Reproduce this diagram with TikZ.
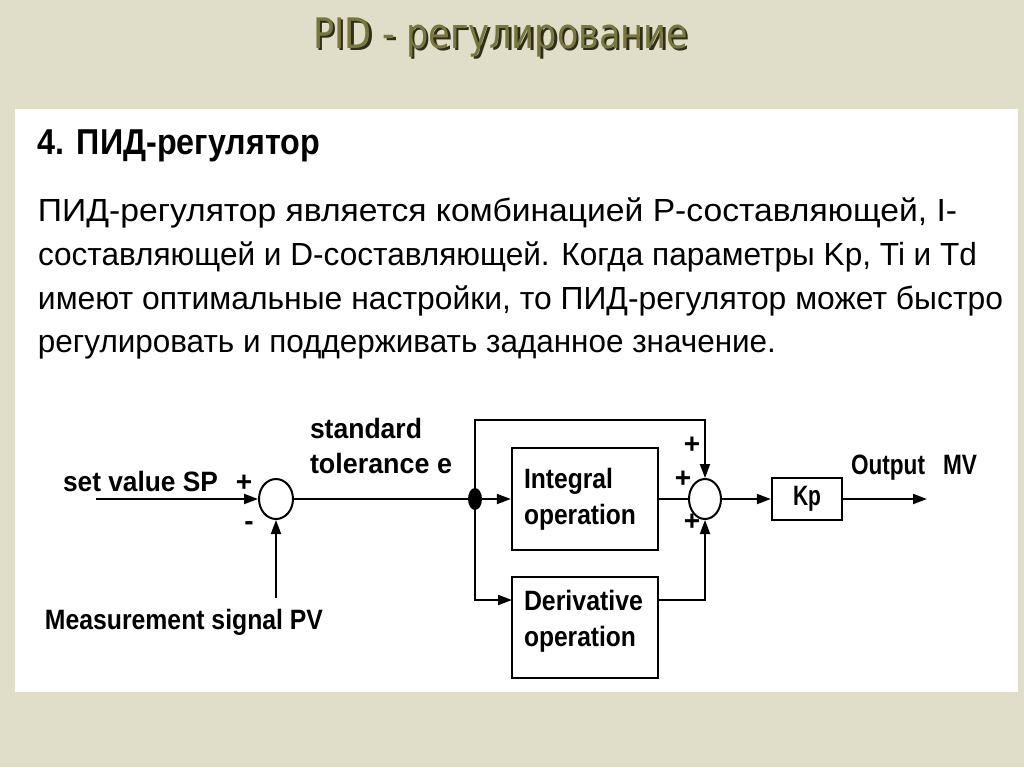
\documentclass[tikz,border=0pt]{standalone}
\usepackage{fontspec}
\setmainfont{Liberation Sans}
\newfontfamily\titlefont{DejaVu Sans}
\usetikzlibrary{arrows.meta,shapes.geometric}
\newlength\pxu \setlength\pxu{0.5pt}
\newcommand\fitw[2]{\resizebox{#1\pxu}{\height}{#2}}
\definecolor{bgc}{HTML}{E0DEC8}
\definecolor{titlecol}{HTML}{77773F}
\definecolor{titleshadow}{HTML}{2E2E18}
\begin{document}
\begin{tikzpicture}[x=0.5pt,y=-0.5pt,
  txt/.style={anchor=base west, inner sep=0, outer sep=0},
  bodyfont/.style={font=\fontsize{16}{18}\selectfont},
  lbl/.style={txt, font=\fontsize{14}{16}\selectfont\bfseries},
  sign/.style={inner sep=0, font=\fontsize{14}{14}\selectfont\bfseries},
  wire/.style={line width=1pt},
  arr/.style={wire, -{Triangle[length=7pt,width=5pt]}},
  blk/.style={draw, line width=1.2pt, inner sep=0},
  sumc/.style={ellipse, draw, line width=1pt, minimum width=17pt, minimum height=20pt, inner sep=0}]
\useasboundingbox (0,0) rectangle (1024,767);
\fill[bgc] (0,0) rectangle (1024,767);
\fill[white] (15,109) rectangle (1018,692);
% title
\node[txt, text=titleshadow, font=\fontsize{21}{24}\selectfont\titlefont] (titleshadow) at (315.5,50.5) {\fitw{375}{PID - регулирование}};
\node[txt, text=titlecol, font=\fontsize{21}{24}\selectfont\titlefont] (title) at (313,48.5) {\fitw{375}{PID - регулирование}};
% heading and body
\node[txt, font=\fontsize{18}{20}\selectfont\bfseries] (head) at (38,154) {\fitw{282}{4. ПИД-регулятор}};
\node[txt, bodyfont] (l1) at (38,221) {\fitw{919}{ПИД-регулятор является комбинацией Р-составляющей, I-}};
\node[txt, bodyfont] (l2) at (38,265) {\fitw{939}{составляющей и D-составляющей. Когда параметры Kp, Ti и Td}};
\node[txt, bodyfont] (l3) at (38,309) {\fitw{965}{имеют оптимальные настройки, то ПИД-регулятор может быстро}};
\node[txt, bodyfont] (l4) at (38,352) {\fitw{738}{регулировать и поддерживать заданное значение.}};
% diagram blocks
\node[sumc] (c1) at (276,499) {};
\node[sumc, minimum width=16pt] (c2) at (705,499) {};
\node[ellipse, fill, minimum width=7pt, minimum height=11pt, inner sep=0] (j) at (475,499) {};
\node[blk, minimum width=73pt, minimum height=51pt] (int) at (585,499) {};
\node[blk, minimum width=73pt, minimum height=50.5pt] (der) at (585,627.5) {};
\node[blk, minimum width=35pt, minimum height=21pt, font=\fontsize{14}{16}\selectfont\bfseries] (kp) at (807,499) {\fitw{28}{Kp}};
% labels
\node[lbl] (sp) at (63,491) {\fitw{155}{set value SP}};
\node[lbl] (std) at (310,438) {\fitw{112}{standard}};
\node[lbl] (tol) at (310,473) {\fitw{142}{tolerance e}};
\node[lbl] (pvt) at (45,629) {\fitw{278}{Measurement signal PV}};
\node[lbl] (int1) at (524,488) {\fitw{89}{Integral}};
\node[lbl] (int2) at (524,524) {\fitw{112}{operation}};
\node[lbl] (der1) at (524,610) {\fitw{119}{Derivative}};
\node[lbl] (der2) at (524,646) {\fitw{112}{operation}};
\node[lbl] (out) at (851,474) {\fitw{74}{Output}};
\node[lbl] (mvt) at (943,474) {\fitw{34}{MV}};
% signs
\node[sign] (p1) at (244,483) {+};
\node[sign] (m1) at (249,526) {-};
\node[sign] (p2) at (692,445) {+};
\node[sign] (p3) at (683,479) {+};
\node[sign] (p4) at (692,522) {+};
% coordinates
\coordinate (spin) at (96,499);
\coordinate (pvin) at (276,598);
\coordinate (tl) at (475,420);
\coordinate (din) at (512,600);
\coordinate (dout) at (658,600);
\coordinate (mvout) at (927,499);
% connectors
\draw[arr] (spin) -- (c1.west);
\draw[arr] (pvin) -- (c1.south);
\draw[wire] (c1.east) -- (j.center);
\draw[arr] (j.center) -- (tl) -| (c2.north);
\draw[arr] (j.center) -- (int.west);
\draw[arr] (j.center) |- (din);
\draw[wire] (int.east) -- (c2.west);
\draw[arr] (dout) -| (c2.south);
\draw[arr] (c2.east) -- (kp.west);
\draw[arr] (kp.east) -- (mvout);
\end{tikzpicture}
\end{document}
